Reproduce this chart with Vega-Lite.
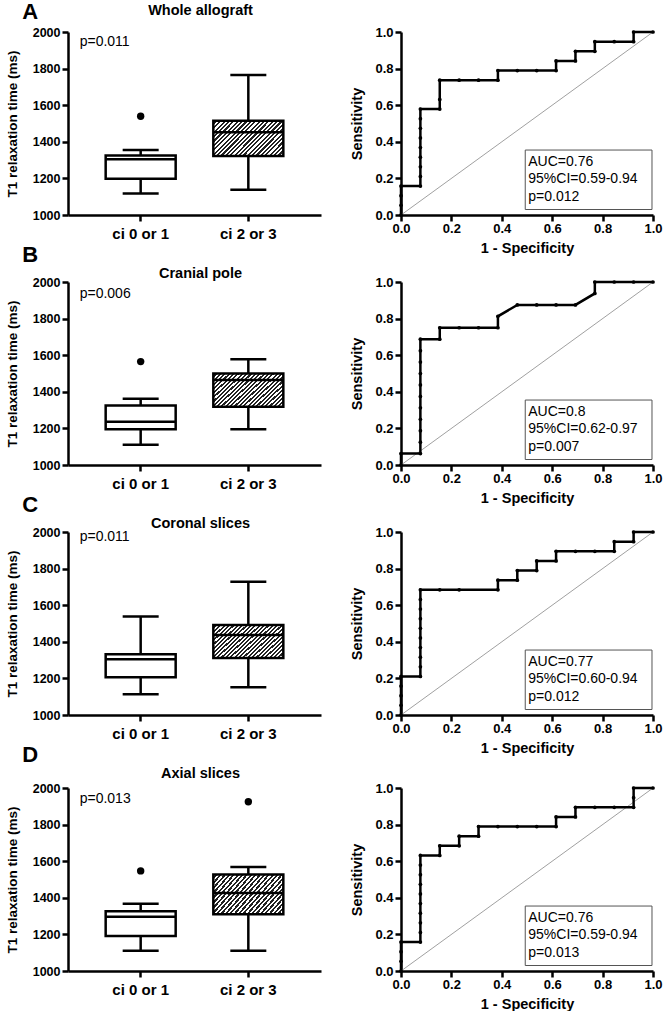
{
"$schema":"https://vega.github.io/schema/vega-lite/v6.json",
"padding":{"left":5,"top":0,"right":0,"bottom":0},
"datasets":{
"box":[
{"panel":"A","group":"ci 0 or 1","min":1117,"q1":1198,"median":1305,"q3":1325,"max":1355},
{"panel":"A","group":"ci 2 or 3","min":1138,"q1":1322,"median":1452,"q3":1515,"max":1765},
{"panel":"B","group":"ci 0 or 1","min":1110,"q1":1195,"median":1236,"q3":1325,"max":1362},
{"panel":"B","group":"ci 2 or 3","min":1195,"q1":1318,"median":1465,"q3":1500,"max":1578},
{"panel":"C","group":"ci 0 or 1","min":1114,"q1":1206,"median":1305,"q3":1332,"max":1538},
{"panel":"C","group":"ci 2 or 3","min":1152,"q1":1312,"median":1437,"q3":1492,"max":1728},
{"panel":"D","group":"ci 0 or 1","min":1111,"q1":1191,"median":1296,"q3":1327,"max":1367},
{"panel":"D","group":"ci 2 or 3","min":1111,"q1":1310,"median":1426,"q3":1528,"max":1568}
],
"outliers":[
{"panel":"A","group":"ci 0 or 1","value":1540},
{"panel":"B","group":"ci 0 or 1","value":1565},
{"panel":"D","group":"ci 0 or 1","value":1547},
{"panel":"D","group":"ci 2 or 3","value":1925}
],
"notes":[
{"panel":"A","p":"p=0.011","auc":"AUC=0.76\n95%CI=0.59-0.94\np=0.012"},
{"panel":"B","p":"p=0.006","auc":"AUC=0.8\n95%CI=0.62-0.97\np=0.007"},
{"panel":"C","p":"p=0.011","auc":"AUC=0.77\n95%CI=0.60-0.94\np=0.012"},
{"panel":"D","p":"p=0.013","auc":"AUC=0.76\n95%CI=0.59-0.94\np=0.013"}
],
"roc":[
{"panel":"A","i":1,"fpr":0,"tpr":0},{"panel":"A","i":2,"fpr":0,"tpr":0.0526},{"panel":"A","i":3,"fpr":0,"tpr":0.1053},{"panel":"A","i":4,"fpr":0,"tpr":0.1579},
{"panel":"A","i":5,"fpr":0.0769,"tpr":0.1579},{"panel":"A","i":6,"fpr":0.0769,"tpr":0.2105},{"panel":"A","i":7,"fpr":0.0769,"tpr":0.2632},{"panel":"A","i":8,"fpr":0.0769,"tpr":0.3158},
{"panel":"A","i":9,"fpr":0.0769,"tpr":0.3684},{"panel":"A","i":10,"fpr":0.0769,"tpr":0.4211},{"panel":"A","i":11,"fpr":0.0769,"tpr":0.4737},{"panel":"A","i":12,"fpr":0.0769,"tpr":0.5263},
{"panel":"A","i":13,"fpr":0.0769,"tpr":0.5789},{"panel":"A","i":14,"fpr":0.1538,"tpr":0.5789},{"panel":"A","i":15,"fpr":0.1538,"tpr":0.6316},{"panel":"A","i":16,"fpr":0.1538,"tpr":0.7368},
{"panel":"A","i":17,"fpr":0.2308,"tpr":0.7368},{"panel":"A","i":18,"fpr":0.3077,"tpr":0.7368},{"panel":"A","i":19,"fpr":0.3846,"tpr":0.7368},{"panel":"A","i":20,"fpr":0.3846,"tpr":0.7895},
{"panel":"A","i":21,"fpr":0.4615,"tpr":0.7895},{"panel":"A","i":22,"fpr":0.5385,"tpr":0.7895},{"panel":"A","i":23,"fpr":0.6154,"tpr":0.7895},{"panel":"A","i":24,"fpr":0.6154,"tpr":0.8421},
{"panel":"A","i":25,"fpr":0.6923,"tpr":0.8421},{"panel":"A","i":26,"fpr":0.6923,"tpr":0.8947},{"panel":"A","i":27,"fpr":0.7692,"tpr":0.8947},{"panel":"A","i":28,"fpr":0.7692,"tpr":0.9474},
{"panel":"A","i":29,"fpr":0.8462,"tpr":0.9474},{"panel":"A","i":30,"fpr":0.9231,"tpr":0.9474},{"panel":"A","i":31,"fpr":0.9231,"tpr":1},{"panel":"A","i":32,"fpr":1,"tpr":1},
{"panel":"B","i":1,"fpr":0,"tpr":0},{"panel":"B","i":2,"fpr":0,"tpr":0.0625},{"panel":"B","i":3,"fpr":0.0769,"tpr":0.0625},{"panel":"B","i":4,"fpr":0.0769,"tpr":0.125},
{"panel":"B","i":5,"fpr":0.0769,"tpr":0.1875},{"panel":"B","i":6,"fpr":0.0769,"tpr":0.25},{"panel":"B","i":7,"fpr":0.0769,"tpr":0.3125},{"panel":"B","i":8,"fpr":0.0769,"tpr":0.375},
{"panel":"B","i":9,"fpr":0.0769,"tpr":0.4375},{"panel":"B","i":10,"fpr":0.0769,"tpr":0.5},{"panel":"B","i":11,"fpr":0.0769,"tpr":0.5625},{"panel":"B","i":12,"fpr":0.0769,"tpr":0.625},
{"panel":"B","i":13,"fpr":0.0769,"tpr":0.6875},{"panel":"B","i":14,"fpr":0.1538,"tpr":0.6875},{"panel":"B","i":15,"fpr":0.1538,"tpr":0.75},{"panel":"B","i":16,"fpr":0.2308,"tpr":0.75},
{"panel":"B","i":17,"fpr":0.3077,"tpr":0.75},{"panel":"B","i":18,"fpr":0.3846,"tpr":0.75},{"panel":"B","i":19,"fpr":0.3846,"tpr":0.8125},{"panel":"B","i":20,"fpr":0.4615,"tpr":0.875},
{"panel":"B","i":21,"fpr":0.5385,"tpr":0.875},{"panel":"B","i":22,"fpr":0.6154,"tpr":0.875},{"panel":"B","i":23,"fpr":0.6923,"tpr":0.875},{"panel":"B","i":24,"fpr":0.7692,"tpr":0.9375},
{"panel":"B","i":25,"fpr":0.7692,"tpr":1},{"panel":"B","i":26,"fpr":0.8462,"tpr":1},{"panel":"B","i":27,"fpr":0.9231,"tpr":1},{"panel":"B","i":28,"fpr":1,"tpr":1},
{"panel":"C","i":1,"fpr":0,"tpr":0},{"panel":"C","i":2,"fpr":0,"tpr":0.0526},{"panel":"C","i":3,"fpr":0,"tpr":0.1053},{"panel":"C","i":4,"fpr":0,"tpr":0.1579},
{"panel":"C","i":5,"fpr":0,"tpr":0.2105},{"panel":"C","i":6,"fpr":0.0769,"tpr":0.2105},{"panel":"C","i":7,"fpr":0.0769,"tpr":0.2632},{"panel":"C","i":8,"fpr":0.0769,"tpr":0.3158},
{"panel":"C","i":9,"fpr":0.0769,"tpr":0.3684},{"panel":"C","i":10,"fpr":0.0769,"tpr":0.4211},{"panel":"C","i":11,"fpr":0.0769,"tpr":0.4737},{"panel":"C","i":12,"fpr":0.0769,"tpr":0.5263},
{"panel":"C","i":13,"fpr":0.0769,"tpr":0.5789},{"panel":"C","i":14,"fpr":0.0769,"tpr":0.6316},{"panel":"C","i":15,"fpr":0.0769,"tpr":0.6842},{"panel":"C","i":16,"fpr":0.1538,"tpr":0.6842},
{"panel":"C","i":17,"fpr":0.2308,"tpr":0.6842},{"panel":"C","i":18,"fpr":0.3846,"tpr":0.6842},{"panel":"C","i":19,"fpr":0.3846,"tpr":0.7368},{"panel":"C","i":20,"fpr":0.4615,"tpr":0.7368},
{"panel":"C","i":21,"fpr":0.4615,"tpr":0.7895},{"panel":"C","i":22,"fpr":0.5385,"tpr":0.7895},{"panel":"C","i":23,"fpr":0.5385,"tpr":0.8421},{"panel":"C","i":24,"fpr":0.6154,"tpr":0.8421},
{"panel":"C","i":25,"fpr":0.6154,"tpr":0.8947},{"panel":"C","i":26,"fpr":0.6923,"tpr":0.8947},{"panel":"C","i":27,"fpr":0.7692,"tpr":0.8947},{"panel":"C","i":28,"fpr":0.8462,"tpr":0.8947},
{"panel":"C","i":29,"fpr":0.8462,"tpr":0.9474},{"panel":"C","i":30,"fpr":0.9231,"tpr":0.9474},{"panel":"C","i":31,"fpr":0.9231,"tpr":1},{"panel":"C","i":32,"fpr":1,"tpr":1},
{"panel":"D","i":1,"fpr":0,"tpr":0},{"panel":"D","i":2,"fpr":0,"tpr":0.0526},{"panel":"D","i":3,"fpr":0,"tpr":0.1053},{"panel":"D","i":4,"fpr":0,"tpr":0.1579},
{"panel":"D","i":5,"fpr":0.0769,"tpr":0.1579},{"panel":"D","i":6,"fpr":0.0769,"tpr":0.2105},{"panel":"D","i":7,"fpr":0.0769,"tpr":0.2632},{"panel":"D","i":8,"fpr":0.0769,"tpr":0.3158},
{"panel":"D","i":9,"fpr":0.0769,"tpr":0.3684},{"panel":"D","i":10,"fpr":0.0769,"tpr":0.4211},{"panel":"D","i":11,"fpr":0.0769,"tpr":0.4737},{"panel":"D","i":12,"fpr":0.0769,"tpr":0.5263},
{"panel":"D","i":13,"fpr":0.0769,"tpr":0.5789},{"panel":"D","i":14,"fpr":0.0769,"tpr":0.6316},{"panel":"D","i":15,"fpr":0.1538,"tpr":0.6316},{"panel":"D","i":16,"fpr":0.1538,"tpr":0.6842},
{"panel":"D","i":17,"fpr":0.2308,"tpr":0.6842},{"panel":"D","i":18,"fpr":0.2308,"tpr":0.7368},{"panel":"D","i":19,"fpr":0.3077,"tpr":0.7368},{"panel":"D","i":20,"fpr":0.3077,"tpr":0.7895},
{"panel":"D","i":21,"fpr":0.3846,"tpr":0.7895},{"panel":"D","i":22,"fpr":0.4615,"tpr":0.7895},{"panel":"D","i":23,"fpr":0.5385,"tpr":0.7895},{"panel":"D","i":24,"fpr":0.6154,"tpr":0.7895},
{"panel":"D","i":25,"fpr":0.6154,"tpr":0.8421},{"panel":"D","i":26,"fpr":0.6923,"tpr":0.8421},{"panel":"D","i":27,"fpr":0.6923,"tpr":0.8947},{"panel":"D","i":28,"fpr":0.7692,"tpr":0.8947},
{"panel":"D","i":29,"fpr":0.8462,"tpr":0.8947},{"panel":"D","i":30,"fpr":0.9231,"tpr":0.8947},{"panel":"D","i":31,"fpr":0.9231,"tpr":0.9474},{"panel":"D","i":32,"fpr":0.9231,"tpr":1},
{"panel":"D","i":33,"fpr":1,"tpr":1}
]
},
"spacing":-12,
"vconcat":[
{"title":{"text":"A","offset":-21,"anchor":"start","frame":"bounds","fontSize":22,"dx":17},"bounds":"flush","spacing":80,"hconcat":[
{"width":253,"height":183,"title":{"text":"Whole allograft","offset":8,"dx":6},
"encoding":{"x":{"field":"group","type":"nominal","sort":["ci 0 or 1","ci 2 or 3"],"scale":{"domain":["ci 0 or 1","ci 2 or 3"],"paddingInner":0.35,"paddingOuter":0.35},"axis":{"title":null,"labelAngle":0,"labelFontSize":15,"labelPadding":5}}},
"layer":[
{"data":{"name":"box"},"transform":[{"filter":"datum.panel==='A'"}],"mark":{"type":"rule","color":"black","strokeWidth":2.5},"encoding":{"y":{"field":"min","type":"quantitative","title":"T1 relaxation time (ms)","scale":{"domain":[1000,2000],"nice":false,"zero":false},"axis":{"values":[1000,1200,1400,1600,1800,2000],"tickCount":10,"format":"d","labelOverlap":false,"labelFontSize":12.5,"titleFontSize":13.5,"titlePadding":13}},"y2":{"field":"max"}}},
{"data":{"name":"box"},"transform":[{"filter":"datum.panel==='A' && datum.group==='ci 0 or 1'"}],"mark":{"type":"bar","size":70,"fill":"white","stroke":"black","strokeWidth":2.5},"encoding":{"y":{"field":"q1","type":"quantitative","title":"T1 relaxation time (ms)"},"y2":{"field":"q3"}}},
{"data":{"name":"box"},"transform":[{"filter":"datum.panel==='A' && datum.group==='ci 2 or 3'"}],"mark":{"type":"bar","size":70,"stroke":"black","strokeWidth":2.5,"fill":{"gradient":"linear","x1":0,"y1":0,"x2":1.2,"y2":0.6,"stops":[
{"offset":0,"color":"#fff"},{"offset":0.0208,"color":"#fff"},{"offset":0.0208,"color":"#222"},{"offset":0.0417,"color":"#222"},{"offset":0.0417,"color":"#fff"},{"offset":0.0625,"color":"#fff"},{"offset":0.0625,"color":"#222"},{"offset":0.0833,"color":"#222"},
{"offset":0.0833,"color":"#fff"},{"offset":0.1042,"color":"#fff"},{"offset":0.1042,"color":"#222"},{"offset":0.125,"color":"#222"},{"offset":0.125,"color":"#fff"},{"offset":0.1458,"color":"#fff"},{"offset":0.1458,"color":"#222"},{"offset":0.1667,"color":"#222"},
{"offset":0.1667,"color":"#fff"},{"offset":0.1875,"color":"#fff"},{"offset":0.1875,"color":"#222"},{"offset":0.2083,"color":"#222"},{"offset":0.2083,"color":"#fff"},{"offset":0.2292,"color":"#fff"},{"offset":0.2292,"color":"#222"},{"offset":0.25,"color":"#222"},
{"offset":0.25,"color":"#fff"},{"offset":0.2708,"color":"#fff"},{"offset":0.2708,"color":"#222"},{"offset":0.2917,"color":"#222"},{"offset":0.2917,"color":"#fff"},{"offset":0.3125,"color":"#fff"},{"offset":0.3125,"color":"#222"},{"offset":0.3333,"color":"#222"},
{"offset":0.3333,"color":"#fff"},{"offset":0.3542,"color":"#fff"},{"offset":0.3542,"color":"#222"},{"offset":0.375,"color":"#222"},{"offset":0.375,"color":"#fff"},{"offset":0.3958,"color":"#fff"},{"offset":0.3958,"color":"#222"},{"offset":0.4167,"color":"#222"},
{"offset":0.4167,"color":"#fff"},{"offset":0.4375,"color":"#fff"},{"offset":0.4375,"color":"#222"},{"offset":0.4583,"color":"#222"},{"offset":0.4583,"color":"#fff"},{"offset":0.4792,"color":"#fff"},{"offset":0.4792,"color":"#222"},{"offset":0.5,"color":"#222"},
{"offset":0.5,"color":"#fff"},{"offset":0.5208,"color":"#fff"},{"offset":0.5208,"color":"#222"},{"offset":0.5417,"color":"#222"},{"offset":0.5417,"color":"#fff"},{"offset":0.5625,"color":"#fff"},{"offset":0.5625,"color":"#222"},{"offset":0.5833,"color":"#222"},
{"offset":0.5833,"color":"#fff"},{"offset":0.6042,"color":"#fff"},{"offset":0.6042,"color":"#222"},{"offset":0.625,"color":"#222"},{"offset":0.625,"color":"#fff"},{"offset":0.6458,"color":"#fff"},{"offset":0.6458,"color":"#222"},{"offset":0.6667,"color":"#222"},
{"offset":0.6667,"color":"#fff"},{"offset":0.6875,"color":"#fff"},{"offset":0.6875,"color":"#222"},{"offset":0.7083,"color":"#222"},{"offset":0.7083,"color":"#fff"},{"offset":0.7292,"color":"#fff"},{"offset":0.7292,"color":"#222"},{"offset":0.75,"color":"#222"},
{"offset":0.75,"color":"#fff"},{"offset":0.7708,"color":"#fff"},{"offset":0.7708,"color":"#222"},{"offset":0.7917,"color":"#222"},{"offset":0.7917,"color":"#fff"},{"offset":0.8125,"color":"#fff"},{"offset":0.8125,"color":"#222"},{"offset":0.8333,"color":"#222"},
{"offset":0.8333,"color":"#fff"},{"offset":0.8542,"color":"#fff"},{"offset":0.8542,"color":"#222"},{"offset":0.875,"color":"#222"},{"offset":0.875,"color":"#fff"},{"offset":0.8958,"color":"#fff"},{"offset":0.8958,"color":"#222"},{"offset":0.9167,"color":"#222"},
{"offset":0.9167,"color":"#fff"},{"offset":0.9375,"color":"#fff"},{"offset":0.9375,"color":"#222"},{"offset":0.9583,"color":"#222"},{"offset":0.9583,"color":"#fff"},{"offset":0.9792,"color":"#fff"},{"offset":0.9792,"color":"#222"},{"offset":1,"color":"#222"}]}},"encoding":{"y":{"field":"q1","type":"quantitative","title":"T1 relaxation time (ms)"},"y2":{"field":"q3"}}},
{"data":{"name":"box"},"transform":[{"filter":"datum.panel==='A'"}],"mark":{"type":"tick","size":70,"thickness":2.5,"color":"black","opacity":1},"encoding":{"y":{"field":"median","type":"quantitative","title":"T1 relaxation time (ms)"}}},
{"data":{"name":"box"},"transform":[{"filter":"datum.panel==='A'"}],"mark":{"type":"tick","size":36,"thickness":2.5,"color":"black","opacity":1},"encoding":{"y":{"field":"min","type":"quantitative","title":"T1 relaxation time (ms)"}}},
{"data":{"name":"box"},"transform":[{"filter":"datum.panel==='A'"}],"mark":{"type":"tick","size":36,"thickness":2.5,"color":"black","opacity":1},"encoding":{"y":{"field":"max","type":"quantitative","title":"T1 relaxation time (ms)"}}},
{"data":{"name":"outliers"},"transform":[{"filter":"datum.panel==='A'"}],"mark":{"type":"point","filled":true,"size":55,"color":"black","opacity":1},"encoding":{"y":{"field":"value","type":"quantitative","title":"T1 relaxation time (ms)"}}},
{"data":{"name":"notes"},"transform":[{"filter":"datum.panel==='A'"}],"mark":{"type":"text","align":"left","baseline":"middle","fontSize":14,"dx":-61},"encoding":{"x":{"datum":"ci 0 or 1"},"y":{"datum":1945},"text":{"field":"p"}}}
]},
{"width":252,"height":183,
"layer":[
{"data":{"name":"notes"},"transform":[{"filter":"datum.panel==='A'"}],"mark":{"type":"rect","fill":"white","stroke":"#555","strokeWidth":1},"encoding":{"x":{"datum":0.493,"type":"quantitative","title":"1 - Specificity","scale":{"domain":[0,1],"nice":false}},"x2":{"datum":0.996},"y":{"datum":0.03,"type":"quantitative","title":"Sensitivity","scale":{"domain":[0,1],"nice":false}},"y2":{"datum":0.355}}},
{"data":{"name":"notes"},"transform":[{"filter":"datum.panel==='A'"}],"mark":{"type":"text","align":"left","baseline":"top","fontSize":14,"lineHeight":17.5,"lineBreak":"\n"},"encoding":{"x":{"datum":0.505,"type":"quantitative","title":"1 - Specificity"},"y":{"datum":0.33,"type":"quantitative","title":"Sensitivity"},"text":{"field":"auc"}}},
{"data":{"name":"notes"},"transform":[{"filter":"datum.panel==='A'"}],"mark":{"type":"rule","color":"#888","strokeWidth":0.8},"encoding":{"x":{"datum":0,"type":"quantitative","title":"1 - Specificity"},"y":{"datum":0,"type":"quantitative","title":"Sensitivity"},"x2":{"datum":1},"y2":{"datum":1}}},
{"data":{"name":"roc"},"transform":[{"filter":"datum.panel==='A'"}],"mark":{"type":"line","color":"black","strokeWidth":2.5,"point":{"filled":true,"size":14,"color":"black","opacity":1}},"encoding":{"x":{"field":"fpr","type":"quantitative","title":"1 - Specificity","scale":{"domain":[0,1],"nice":false},"axis":{"values":[0,0.2,0.4,0.6,0.8,1],"tickCount":10,"format":".1f","labelOverlap":false,"labelFontSize":13,"titleFontSize":14.5,"labelPadding":1,"titlePadding":6}},"y":{"field":"tpr","type":"quantitative","title":"Sensitivity","scale":{"domain":[0,1],"nice":false},"axis":{"values":[0,0.2,0.4,0.6,0.8,1],"tickCount":10,"format":".1f","labelOverlap":false,"labelFontSize":13,"titleFontSize":14.5,"labelPadding":2,"titlePadding":10}},"order":{"field":"i","type":"quantitative"}}}
]}
]},
{"title":{"text":"B","offset":-1,"anchor":"start","frame":"bounds","fontSize":22,"dx":17},"bounds":"flush","spacing":80,"hconcat":[
{"width":253,"height":183,"title":{"text":"Cranial pole","offset":-5,"dx":6},
"encoding":{"x":{"field":"group","type":"nominal","sort":["ci 0 or 1","ci 2 or 3"],"scale":{"domain":["ci 0 or 1","ci 2 or 3"],"paddingInner":0.35,"paddingOuter":0.35},"axis":{"title":null,"labelAngle":0,"labelFontSize":15,"labelPadding":5}}},
"layer":[
{"data":{"name":"box"},"transform":[{"filter":"datum.panel==='B'"}],"mark":{"type":"rule","color":"black","strokeWidth":2.5},"encoding":{"y":{"field":"min","type":"quantitative","title":"T1 relaxation time (ms)","scale":{"domain":[1000,2000],"nice":false,"zero":false},"axis":{"values":[1000,1200,1400,1600,1800,2000],"tickCount":10,"format":"d","labelOverlap":false,"labelFontSize":12.5,"titleFontSize":13.5,"titlePadding":13}},"y2":{"field":"max"}}},
{"data":{"name":"box"},"transform":[{"filter":"datum.panel==='B' && datum.group==='ci 0 or 1'"}],"mark":{"type":"bar","size":70,"fill":"white","stroke":"black","strokeWidth":2.5},"encoding":{"y":{"field":"q1","type":"quantitative","title":"T1 relaxation time (ms)"},"y2":{"field":"q3"}}},
{"data":{"name":"box"},"transform":[{"filter":"datum.panel==='B' && datum.group==='ci 2 or 3'"}],"mark":{"type":"bar","size":70,"stroke":"black","strokeWidth":2.5,"fill":{"gradient":"linear","x1":0,"y1":0,"x2":1.2,"y2":0.6,"stops":[
{"offset":0,"color":"#fff"},{"offset":0.0208,"color":"#fff"},{"offset":0.0208,"color":"#222"},{"offset":0.0417,"color":"#222"},{"offset":0.0417,"color":"#fff"},{"offset":0.0625,"color":"#fff"},{"offset":0.0625,"color":"#222"},{"offset":0.0833,"color":"#222"},
{"offset":0.0833,"color":"#fff"},{"offset":0.1042,"color":"#fff"},{"offset":0.1042,"color":"#222"},{"offset":0.125,"color":"#222"},{"offset":0.125,"color":"#fff"},{"offset":0.1458,"color":"#fff"},{"offset":0.1458,"color":"#222"},{"offset":0.1667,"color":"#222"},
{"offset":0.1667,"color":"#fff"},{"offset":0.1875,"color":"#fff"},{"offset":0.1875,"color":"#222"},{"offset":0.2083,"color":"#222"},{"offset":0.2083,"color":"#fff"},{"offset":0.2292,"color":"#fff"},{"offset":0.2292,"color":"#222"},{"offset":0.25,"color":"#222"},
{"offset":0.25,"color":"#fff"},{"offset":0.2708,"color":"#fff"},{"offset":0.2708,"color":"#222"},{"offset":0.2917,"color":"#222"},{"offset":0.2917,"color":"#fff"},{"offset":0.3125,"color":"#fff"},{"offset":0.3125,"color":"#222"},{"offset":0.3333,"color":"#222"},
{"offset":0.3333,"color":"#fff"},{"offset":0.3542,"color":"#fff"},{"offset":0.3542,"color":"#222"},{"offset":0.375,"color":"#222"},{"offset":0.375,"color":"#fff"},{"offset":0.3958,"color":"#fff"},{"offset":0.3958,"color":"#222"},{"offset":0.4167,"color":"#222"},
{"offset":0.4167,"color":"#fff"},{"offset":0.4375,"color":"#fff"},{"offset":0.4375,"color":"#222"},{"offset":0.4583,"color":"#222"},{"offset":0.4583,"color":"#fff"},{"offset":0.4792,"color":"#fff"},{"offset":0.4792,"color":"#222"},{"offset":0.5,"color":"#222"},
{"offset":0.5,"color":"#fff"},{"offset":0.5208,"color":"#fff"},{"offset":0.5208,"color":"#222"},{"offset":0.5417,"color":"#222"},{"offset":0.5417,"color":"#fff"},{"offset":0.5625,"color":"#fff"},{"offset":0.5625,"color":"#222"},{"offset":0.5833,"color":"#222"},
{"offset":0.5833,"color":"#fff"},{"offset":0.6042,"color":"#fff"},{"offset":0.6042,"color":"#222"},{"offset":0.625,"color":"#222"},{"offset":0.625,"color":"#fff"},{"offset":0.6458,"color":"#fff"},{"offset":0.6458,"color":"#222"},{"offset":0.6667,"color":"#222"},
{"offset":0.6667,"color":"#fff"},{"offset":0.6875,"color":"#fff"},{"offset":0.6875,"color":"#222"},{"offset":0.7083,"color":"#222"},{"offset":0.7083,"color":"#fff"},{"offset":0.7292,"color":"#fff"},{"offset":0.7292,"color":"#222"},{"offset":0.75,"color":"#222"},
{"offset":0.75,"color":"#fff"},{"offset":0.7708,"color":"#fff"},{"offset":0.7708,"color":"#222"},{"offset":0.7917,"color":"#222"},{"offset":0.7917,"color":"#fff"},{"offset":0.8125,"color":"#fff"},{"offset":0.8125,"color":"#222"},{"offset":0.8333,"color":"#222"},
{"offset":0.8333,"color":"#fff"},{"offset":0.8542,"color":"#fff"},{"offset":0.8542,"color":"#222"},{"offset":0.875,"color":"#222"},{"offset":0.875,"color":"#fff"},{"offset":0.8958,"color":"#fff"},{"offset":0.8958,"color":"#222"},{"offset":0.9167,"color":"#222"},
{"offset":0.9167,"color":"#fff"},{"offset":0.9375,"color":"#fff"},{"offset":0.9375,"color":"#222"},{"offset":0.9583,"color":"#222"},{"offset":0.9583,"color":"#fff"},{"offset":0.9792,"color":"#fff"},{"offset":0.9792,"color":"#222"},{"offset":1,"color":"#222"}]}},"encoding":{"y":{"field":"q1","type":"quantitative","title":"T1 relaxation time (ms)"},"y2":{"field":"q3"}}},
{"data":{"name":"box"},"transform":[{"filter":"datum.panel==='B'"}],"mark":{"type":"tick","size":70,"thickness":2.5,"color":"black","opacity":1},"encoding":{"y":{"field":"median","type":"quantitative","title":"T1 relaxation time (ms)"}}},
{"data":{"name":"box"},"transform":[{"filter":"datum.panel==='B'"}],"mark":{"type":"tick","size":36,"thickness":2.5,"color":"black","opacity":1},"encoding":{"y":{"field":"min","type":"quantitative","title":"T1 relaxation time (ms)"}}},
{"data":{"name":"box"},"transform":[{"filter":"datum.panel==='B'"}],"mark":{"type":"tick","size":36,"thickness":2.5,"color":"black","opacity":1},"encoding":{"y":{"field":"max","type":"quantitative","title":"T1 relaxation time (ms)"}}},
{"data":{"name":"outliers"},"transform":[{"filter":"datum.panel==='B'"}],"mark":{"type":"point","filled":true,"size":55,"color":"black","opacity":1},"encoding":{"y":{"field":"value","type":"quantitative","title":"T1 relaxation time (ms)"}}},
{"data":{"name":"notes"},"transform":[{"filter":"datum.panel==='B'"}],"mark":{"type":"text","align":"left","baseline":"middle","fontSize":14,"dx":-61},"encoding":{"x":{"datum":"ci 0 or 1"},"y":{"datum":1935},"text":{"field":"p"}}}
]},
{"width":252,"height":183,
"layer":[
{"data":{"name":"notes"},"transform":[{"filter":"datum.panel==='B'"}],"mark":{"type":"rect","fill":"white","stroke":"#555","strokeWidth":1},"encoding":{"x":{"datum":0.493,"type":"quantitative","title":"1 - Specificity","scale":{"domain":[0,1],"nice":false}},"x2":{"datum":0.996},"y":{"datum":0.03,"type":"quantitative","title":"Sensitivity","scale":{"domain":[0,1],"nice":false}},"y2":{"datum":0.355}}},
{"data":{"name":"notes"},"transform":[{"filter":"datum.panel==='B'"}],"mark":{"type":"text","align":"left","baseline":"top","fontSize":14,"lineHeight":17.5,"lineBreak":"\n"},"encoding":{"x":{"datum":0.505,"type":"quantitative","title":"1 - Specificity"},"y":{"datum":0.33,"type":"quantitative","title":"Sensitivity"},"text":{"field":"auc"}}},
{"data":{"name":"notes"},"transform":[{"filter":"datum.panel==='B'"}],"mark":{"type":"rule","color":"#888","strokeWidth":0.8},"encoding":{"x":{"datum":0,"type":"quantitative","title":"1 - Specificity"},"y":{"datum":0,"type":"quantitative","title":"Sensitivity"},"x2":{"datum":1},"y2":{"datum":1}}},
{"data":{"name":"roc"},"transform":[{"filter":"datum.panel==='B'"}],"mark":{"type":"line","color":"black","strokeWidth":2.5,"point":{"filled":true,"size":14,"color":"black","opacity":1}},"encoding":{"x":{"field":"fpr","type":"quantitative","title":"1 - Specificity","scale":{"domain":[0,1],"nice":false},"axis":{"values":[0,0.2,0.4,0.6,0.8,1],"tickCount":10,"format":".1f","labelOverlap":false,"labelFontSize":13,"titleFontSize":14.5,"labelPadding":1,"titlePadding":6}},"y":{"field":"tpr","type":"quantitative","title":"Sensitivity","scale":{"domain":[0,1],"nice":false},"axis":{"values":[0,0.2,0.4,0.6,0.8,1],"tickCount":10,"format":".1f","labelOverlap":false,"labelFontSize":13,"titleFontSize":14.5,"labelPadding":2,"titlePadding":10}},"order":{"field":"i","type":"quantitative"}}}
]}
]},
{"title":{"text":"C","offset":-1,"anchor":"start","frame":"bounds","fontSize":22,"dx":17},"bounds":"flush","spacing":80,"hconcat":[
{"width":253,"height":183,"title":{"text":"Coronal slices","offset":-5,"dx":6},
"encoding":{"x":{"field":"group","type":"nominal","sort":["ci 0 or 1","ci 2 or 3"],"scale":{"domain":["ci 0 or 1","ci 2 or 3"],"paddingInner":0.35,"paddingOuter":0.35},"axis":{"title":null,"labelAngle":0,"labelFontSize":15,"labelPadding":5}}},
"layer":[
{"data":{"name":"box"},"transform":[{"filter":"datum.panel==='C'"}],"mark":{"type":"rule","color":"black","strokeWidth":2.5},"encoding":{"y":{"field":"min","type":"quantitative","title":"T1 relaxation time (ms)","scale":{"domain":[1000,2000],"nice":false,"zero":false},"axis":{"values":[1000,1200,1400,1600,1800,2000],"tickCount":10,"format":"d","labelOverlap":false,"labelFontSize":12.5,"titleFontSize":13.5,"titlePadding":13}},"y2":{"field":"max"}}},
{"data":{"name":"box"},"transform":[{"filter":"datum.panel==='C' && datum.group==='ci 0 or 1'"}],"mark":{"type":"bar","size":70,"fill":"white","stroke":"black","strokeWidth":2.5},"encoding":{"y":{"field":"q1","type":"quantitative","title":"T1 relaxation time (ms)"},"y2":{"field":"q3"}}},
{"data":{"name":"box"},"transform":[{"filter":"datum.panel==='C' && datum.group==='ci 2 or 3'"}],"mark":{"type":"bar","size":70,"stroke":"black","strokeWidth":2.5,"fill":{"gradient":"linear","x1":0,"y1":0,"x2":1.2,"y2":0.6,"stops":[
{"offset":0,"color":"#fff"},{"offset":0.0208,"color":"#fff"},{"offset":0.0208,"color":"#222"},{"offset":0.0417,"color":"#222"},{"offset":0.0417,"color":"#fff"},{"offset":0.0625,"color":"#fff"},{"offset":0.0625,"color":"#222"},{"offset":0.0833,"color":"#222"},
{"offset":0.0833,"color":"#fff"},{"offset":0.1042,"color":"#fff"},{"offset":0.1042,"color":"#222"},{"offset":0.125,"color":"#222"},{"offset":0.125,"color":"#fff"},{"offset":0.1458,"color":"#fff"},{"offset":0.1458,"color":"#222"},{"offset":0.1667,"color":"#222"},
{"offset":0.1667,"color":"#fff"},{"offset":0.1875,"color":"#fff"},{"offset":0.1875,"color":"#222"},{"offset":0.2083,"color":"#222"},{"offset":0.2083,"color":"#fff"},{"offset":0.2292,"color":"#fff"},{"offset":0.2292,"color":"#222"},{"offset":0.25,"color":"#222"},
{"offset":0.25,"color":"#fff"},{"offset":0.2708,"color":"#fff"},{"offset":0.2708,"color":"#222"},{"offset":0.2917,"color":"#222"},{"offset":0.2917,"color":"#fff"},{"offset":0.3125,"color":"#fff"},{"offset":0.3125,"color":"#222"},{"offset":0.3333,"color":"#222"},
{"offset":0.3333,"color":"#fff"},{"offset":0.3542,"color":"#fff"},{"offset":0.3542,"color":"#222"},{"offset":0.375,"color":"#222"},{"offset":0.375,"color":"#fff"},{"offset":0.3958,"color":"#fff"},{"offset":0.3958,"color":"#222"},{"offset":0.4167,"color":"#222"},
{"offset":0.4167,"color":"#fff"},{"offset":0.4375,"color":"#fff"},{"offset":0.4375,"color":"#222"},{"offset":0.4583,"color":"#222"},{"offset":0.4583,"color":"#fff"},{"offset":0.4792,"color":"#fff"},{"offset":0.4792,"color":"#222"},{"offset":0.5,"color":"#222"},
{"offset":0.5,"color":"#fff"},{"offset":0.5208,"color":"#fff"},{"offset":0.5208,"color":"#222"},{"offset":0.5417,"color":"#222"},{"offset":0.5417,"color":"#fff"},{"offset":0.5625,"color":"#fff"},{"offset":0.5625,"color":"#222"},{"offset":0.5833,"color":"#222"},
{"offset":0.5833,"color":"#fff"},{"offset":0.6042,"color":"#fff"},{"offset":0.6042,"color":"#222"},{"offset":0.625,"color":"#222"},{"offset":0.625,"color":"#fff"},{"offset":0.6458,"color":"#fff"},{"offset":0.6458,"color":"#222"},{"offset":0.6667,"color":"#222"},
{"offset":0.6667,"color":"#fff"},{"offset":0.6875,"color":"#fff"},{"offset":0.6875,"color":"#222"},{"offset":0.7083,"color":"#222"},{"offset":0.7083,"color":"#fff"},{"offset":0.7292,"color":"#fff"},{"offset":0.7292,"color":"#222"},{"offset":0.75,"color":"#222"},
{"offset":0.75,"color":"#fff"},{"offset":0.7708,"color":"#fff"},{"offset":0.7708,"color":"#222"},{"offset":0.7917,"color":"#222"},{"offset":0.7917,"color":"#fff"},{"offset":0.8125,"color":"#fff"},{"offset":0.8125,"color":"#222"},{"offset":0.8333,"color":"#222"},
{"offset":0.8333,"color":"#fff"},{"offset":0.8542,"color":"#fff"},{"offset":0.8542,"color":"#222"},{"offset":0.875,"color":"#222"},{"offset":0.875,"color":"#fff"},{"offset":0.8958,"color":"#fff"},{"offset":0.8958,"color":"#222"},{"offset":0.9167,"color":"#222"},
{"offset":0.9167,"color":"#fff"},{"offset":0.9375,"color":"#fff"},{"offset":0.9375,"color":"#222"},{"offset":0.9583,"color":"#222"},{"offset":0.9583,"color":"#fff"},{"offset":0.9792,"color":"#fff"},{"offset":0.9792,"color":"#222"},{"offset":1,"color":"#222"}]}},"encoding":{"y":{"field":"q1","type":"quantitative","title":"T1 relaxation time (ms)"},"y2":{"field":"q3"}}},
{"data":{"name":"box"},"transform":[{"filter":"datum.panel==='C'"}],"mark":{"type":"tick","size":70,"thickness":2.5,"color":"black","opacity":1},"encoding":{"y":{"field":"median","type":"quantitative","title":"T1 relaxation time (ms)"}}},
{"data":{"name":"box"},"transform":[{"filter":"datum.panel==='C'"}],"mark":{"type":"tick","size":36,"thickness":2.5,"color":"black","opacity":1},"encoding":{"y":{"field":"min","type":"quantitative","title":"T1 relaxation time (ms)"}}},
{"data":{"name":"box"},"transform":[{"filter":"datum.panel==='C'"}],"mark":{"type":"tick","size":36,"thickness":2.5,"color":"black","opacity":1},"encoding":{"y":{"field":"max","type":"quantitative","title":"T1 relaxation time (ms)"}}},
{"data":{"name":"notes"},"transform":[{"filter":"datum.panel==='C'"}],"mark":{"type":"text","align":"left","baseline":"middle","fontSize":14,"dx":-61},"encoding":{"x":{"datum":"ci 0 or 1"},"y":{"datum":1975},"text":{"field":"p"}}}
]},
{"width":252,"height":183,
"layer":[
{"data":{"name":"notes"},"transform":[{"filter":"datum.panel==='C'"}],"mark":{"type":"rect","fill":"white","stroke":"#555","strokeWidth":1},"encoding":{"x":{"datum":0.493,"type":"quantitative","title":"1 - Specificity","scale":{"domain":[0,1],"nice":false}},"x2":{"datum":0.996},"y":{"datum":0.03,"type":"quantitative","title":"Sensitivity","scale":{"domain":[0,1],"nice":false}},"y2":{"datum":0.355}}},
{"data":{"name":"notes"},"transform":[{"filter":"datum.panel==='C'"}],"mark":{"type":"text","align":"left","baseline":"top","fontSize":14,"lineHeight":17.5,"lineBreak":"\n"},"encoding":{"x":{"datum":0.505,"type":"quantitative","title":"1 - Specificity"},"y":{"datum":0.33,"type":"quantitative","title":"Sensitivity"},"text":{"field":"auc"}}},
{"data":{"name":"notes"},"transform":[{"filter":"datum.panel==='C'"}],"mark":{"type":"rule","color":"#888","strokeWidth":0.8},"encoding":{"x":{"datum":0,"type":"quantitative","title":"1 - Specificity"},"y":{"datum":0,"type":"quantitative","title":"Sensitivity"},"x2":{"datum":1},"y2":{"datum":1}}},
{"data":{"name":"roc"},"transform":[{"filter":"datum.panel==='C'"}],"mark":{"type":"line","color":"black","strokeWidth":2.5,"point":{"filled":true,"size":14,"color":"black","opacity":1}},"encoding":{"x":{"field":"fpr","type":"quantitative","title":"1 - Specificity","scale":{"domain":[0,1],"nice":false},"axis":{"values":[0,0.2,0.4,0.6,0.8,1],"tickCount":10,"format":".1f","labelOverlap":false,"labelFontSize":13,"titleFontSize":14.5,"labelPadding":1,"titlePadding":6}},"y":{"field":"tpr","type":"quantitative","title":"Sensitivity","scale":{"domain":[0,1],"nice":false},"axis":{"values":[0,0.2,0.4,0.6,0.8,1],"tickCount":10,"format":".1f","labelOverlap":false,"labelFontSize":13,"titleFontSize":14.5,"labelPadding":2,"titlePadding":10}},"order":{"field":"i","type":"quantitative"}}}
]}
]},
{"title":{"text":"D","offset":-1,"anchor":"start","frame":"bounds","fontSize":22,"dx":17},"bounds":"flush","spacing":80,"hconcat":[
{"width":253,"height":183,"title":{"text":"Axial slices","offset":1,"dx":6},
"encoding":{"x":{"field":"group","type":"nominal","sort":["ci 0 or 1","ci 2 or 3"],"scale":{"domain":["ci 0 or 1","ci 2 or 3"],"paddingInner":0.35,"paddingOuter":0.35},"axis":{"title":null,"labelAngle":0,"labelFontSize":15,"labelPadding":5}}},
"layer":[
{"data":{"name":"box"},"transform":[{"filter":"datum.panel==='D'"}],"mark":{"type":"rule","color":"black","strokeWidth":2.5},"encoding":{"y":{"field":"min","type":"quantitative","title":"T1 relaxation time (ms)","scale":{"domain":[1000,2000],"nice":false,"zero":false},"axis":{"values":[1000,1200,1400,1600,1800,2000],"tickCount":10,"format":"d","labelOverlap":false,"labelFontSize":12.5,"titleFontSize":13.5,"titlePadding":13}},"y2":{"field":"max"}}},
{"data":{"name":"box"},"transform":[{"filter":"datum.panel==='D' && datum.group==='ci 0 or 1'"}],"mark":{"type":"bar","size":70,"fill":"white","stroke":"black","strokeWidth":2.5},"encoding":{"y":{"field":"q1","type":"quantitative","title":"T1 relaxation time (ms)"},"y2":{"field":"q3"}}},
{"data":{"name":"box"},"transform":[{"filter":"datum.panel==='D' && datum.group==='ci 2 or 3'"}],"mark":{"type":"bar","size":70,"stroke":"black","strokeWidth":2.5,"fill":{"gradient":"linear","x1":0,"y1":0,"x2":1.2,"y2":0.6,"stops":[
{"offset":0,"color":"#fff"},{"offset":0.0208,"color":"#fff"},{"offset":0.0208,"color":"#222"},{"offset":0.0417,"color":"#222"},{"offset":0.0417,"color":"#fff"},{"offset":0.0625,"color":"#fff"},{"offset":0.0625,"color":"#222"},{"offset":0.0833,"color":"#222"},
{"offset":0.0833,"color":"#fff"},{"offset":0.1042,"color":"#fff"},{"offset":0.1042,"color":"#222"},{"offset":0.125,"color":"#222"},{"offset":0.125,"color":"#fff"},{"offset":0.1458,"color":"#fff"},{"offset":0.1458,"color":"#222"},{"offset":0.1667,"color":"#222"},
{"offset":0.1667,"color":"#fff"},{"offset":0.1875,"color":"#fff"},{"offset":0.1875,"color":"#222"},{"offset":0.2083,"color":"#222"},{"offset":0.2083,"color":"#fff"},{"offset":0.2292,"color":"#fff"},{"offset":0.2292,"color":"#222"},{"offset":0.25,"color":"#222"},
{"offset":0.25,"color":"#fff"},{"offset":0.2708,"color":"#fff"},{"offset":0.2708,"color":"#222"},{"offset":0.2917,"color":"#222"},{"offset":0.2917,"color":"#fff"},{"offset":0.3125,"color":"#fff"},{"offset":0.3125,"color":"#222"},{"offset":0.3333,"color":"#222"},
{"offset":0.3333,"color":"#fff"},{"offset":0.3542,"color":"#fff"},{"offset":0.3542,"color":"#222"},{"offset":0.375,"color":"#222"},{"offset":0.375,"color":"#fff"},{"offset":0.3958,"color":"#fff"},{"offset":0.3958,"color":"#222"},{"offset":0.4167,"color":"#222"},
{"offset":0.4167,"color":"#fff"},{"offset":0.4375,"color":"#fff"},{"offset":0.4375,"color":"#222"},{"offset":0.4583,"color":"#222"},{"offset":0.4583,"color":"#fff"},{"offset":0.4792,"color":"#fff"},{"offset":0.4792,"color":"#222"},{"offset":0.5,"color":"#222"},
{"offset":0.5,"color":"#fff"},{"offset":0.5208,"color":"#fff"},{"offset":0.5208,"color":"#222"},{"offset":0.5417,"color":"#222"},{"offset":0.5417,"color":"#fff"},{"offset":0.5625,"color":"#fff"},{"offset":0.5625,"color":"#222"},{"offset":0.5833,"color":"#222"},
{"offset":0.5833,"color":"#fff"},{"offset":0.6042,"color":"#fff"},{"offset":0.6042,"color":"#222"},{"offset":0.625,"color":"#222"},{"offset":0.625,"color":"#fff"},{"offset":0.6458,"color":"#fff"},{"offset":0.6458,"color":"#222"},{"offset":0.6667,"color":"#222"},
{"offset":0.6667,"color":"#fff"},{"offset":0.6875,"color":"#fff"},{"offset":0.6875,"color":"#222"},{"offset":0.7083,"color":"#222"},{"offset":0.7083,"color":"#fff"},{"offset":0.7292,"color":"#fff"},{"offset":0.7292,"color":"#222"},{"offset":0.75,"color":"#222"},
{"offset":0.75,"color":"#fff"},{"offset":0.7708,"color":"#fff"},{"offset":0.7708,"color":"#222"},{"offset":0.7917,"color":"#222"},{"offset":0.7917,"color":"#fff"},{"offset":0.8125,"color":"#fff"},{"offset":0.8125,"color":"#222"},{"offset":0.8333,"color":"#222"},
{"offset":0.8333,"color":"#fff"},{"offset":0.8542,"color":"#fff"},{"offset":0.8542,"color":"#222"},{"offset":0.875,"color":"#222"},{"offset":0.875,"color":"#fff"},{"offset":0.8958,"color":"#fff"},{"offset":0.8958,"color":"#222"},{"offset":0.9167,"color":"#222"},
{"offset":0.9167,"color":"#fff"},{"offset":0.9375,"color":"#fff"},{"offset":0.9375,"color":"#222"},{"offset":0.9583,"color":"#222"},{"offset":0.9583,"color":"#fff"},{"offset":0.9792,"color":"#fff"},{"offset":0.9792,"color":"#222"},{"offset":1,"color":"#222"}]}},"encoding":{"y":{"field":"q1","type":"quantitative","title":"T1 relaxation time (ms)"},"y2":{"field":"q3"}}},
{"data":{"name":"box"},"transform":[{"filter":"datum.panel==='D'"}],"mark":{"type":"tick","size":70,"thickness":2.5,"color":"black","opacity":1},"encoding":{"y":{"field":"median","type":"quantitative","title":"T1 relaxation time (ms)"}}},
{"data":{"name":"box"},"transform":[{"filter":"datum.panel==='D'"}],"mark":{"type":"tick","size":36,"thickness":2.5,"color":"black","opacity":1},"encoding":{"y":{"field":"min","type":"quantitative","title":"T1 relaxation time (ms)"}}},
{"data":{"name":"box"},"transform":[{"filter":"datum.panel==='D'"}],"mark":{"type":"tick","size":36,"thickness":2.5,"color":"black","opacity":1},"encoding":{"y":{"field":"max","type":"quantitative","title":"T1 relaxation time (ms)"}}},
{"data":{"name":"outliers"},"transform":[{"filter":"datum.panel==='D'"}],"mark":{"type":"point","filled":true,"size":55,"color":"black","opacity":1},"encoding":{"y":{"field":"value","type":"quantitative","title":"T1 relaxation time (ms)"}}},
{"data":{"name":"notes"},"transform":[{"filter":"datum.panel==='D'"}],"mark":{"type":"text","align":"left","baseline":"middle","fontSize":14,"dx":-61},"encoding":{"x":{"datum":"ci 0 or 1"},"y":{"datum":1940},"text":{"field":"p"}}}
]},
{"width":252,"height":183,
"layer":[
{"data":{"name":"notes"},"transform":[{"filter":"datum.panel==='D'"}],"mark":{"type":"rect","fill":"white","stroke":"#555","strokeWidth":1},"encoding":{"x":{"datum":0.493,"type":"quantitative","title":"1 - Specificity","scale":{"domain":[0,1],"nice":false}},"x2":{"datum":0.996},"y":{"datum":0.03,"type":"quantitative","title":"Sensitivity","scale":{"domain":[0,1],"nice":false}},"y2":{"datum":0.355}}},
{"data":{"name":"notes"},"transform":[{"filter":"datum.panel==='D'"}],"mark":{"type":"text","align":"left","baseline":"top","fontSize":14,"lineHeight":17.5,"lineBreak":"\n"},"encoding":{"x":{"datum":0.505,"type":"quantitative","title":"1 - Specificity"},"y":{"datum":0.33,"type":"quantitative","title":"Sensitivity"},"text":{"field":"auc"}}},
{"data":{"name":"notes"},"transform":[{"filter":"datum.panel==='D'"}],"mark":{"type":"rule","color":"#888","strokeWidth":0.8},"encoding":{"x":{"datum":0,"type":"quantitative","title":"1 - Specificity"},"y":{"datum":0,"type":"quantitative","title":"Sensitivity"},"x2":{"datum":1},"y2":{"datum":1}}},
{"data":{"name":"roc"},"transform":[{"filter":"datum.panel==='D'"}],"mark":{"type":"line","color":"black","strokeWidth":2.5,"point":{"filled":true,"size":14,"color":"black","opacity":1}},"encoding":{"x":{"field":"fpr","type":"quantitative","title":"1 - Specificity","scale":{"domain":[0,1],"nice":false},"axis":{"values":[0,0.2,0.4,0.6,0.8,1],"tickCount":10,"format":".1f","labelOverlap":false,"labelFontSize":13,"titleFontSize":14.5,"labelPadding":1,"titlePadding":6}},"y":{"field":"tpr","type":"quantitative","title":"Sensitivity","scale":{"domain":[0,1],"nice":false},"axis":{"values":[0,0.2,0.4,0.6,0.8,1],"tickCount":10,"format":".1f","labelOverlap":false,"labelFontSize":13,"titleFontSize":14.5,"labelPadding":2,"titlePadding":10}},"order":{"field":"i","type":"quantitative"}}}
]}
]}
],
"config":{
"font":"Liberation Sans",
"view":{"stroke":null},
"axis":{"domainColor":"black","domainWidth":2.5,"tickColor":"black","tickWidth":2.5,"tickSize":6,"labelColor":"black","labelFontWeight":"bold","titleFontWeight":"bold","titleColor":"black","grid":false,"labelFlush":false,"labelOverlap":false},
"title":{"fontSize":14.5,"fontWeight":"bold","color":"black","anchor":"middle"}
}
}
